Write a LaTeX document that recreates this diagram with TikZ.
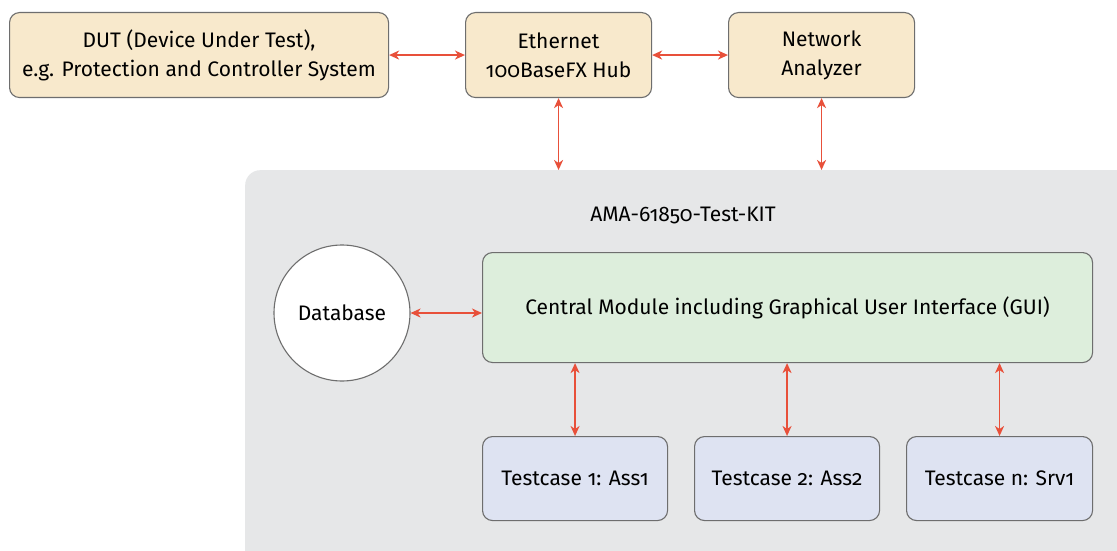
\documentclass[tikz,border=0pt]{standalone}
\usepackage{fontspec}
\setmainfont[Numbers=OldStyle]{Fira Sans}
\usetikzlibrary{arrows.meta,calc}
\definecolor{beige}{HTML}{F8E9CC}
\definecolor{greenbox}{HTML}{DDEEDC}
\definecolor{bluebox}{HTML}{DEE3F2}
\definecolor{panelgray}{HTML}{E6E7E8}
\definecolor{bordergray}{HTML}{6E6E6E}
\definecolor{arrowred}{HTML}{E8503A}
\tikzset{
  x=1pt, y=-1pt,
  txt/.style={font=\fontsize{21}{29}\selectfont},
  boxbase/.style={draw=bordergray, line width=1.1pt, rounded corners=10pt, align=center,
    inner sep=0pt, txt, anchor=north west},
  topbox/.style={boxbase, fill=beige},
  centralbox/.style={boxbase, fill=greenbox},
  testbox/.style={boxbase, fill=bluebox},
  link/.style={draw=arrowred, line width=1.6pt, {Stealth[length=10pt,width=9pt,inset=3pt]}-{Stealth[length=10pt,width=9pt,inset=3pt]}},
}
\begin{document}
\begin{tikzpicture}
\useasboundingbox (0,0) rectangle (1117,551);
\fill[white] (0,0) rectangle (1117,551);
\begin{scope}
\clip (0,0) rectangle (1117,551);
\node[fill=panelgray, rounded corners=15pt, anchor=north west, minimum width=902pt, minimum height=411pt, inner sep=0pt] (kit) at (245,170) {};
\end{scope}
\node[txt] (title) at (683,215) {AMA-61850-Test-KIT};

\node[topbox, minimum width=379pt, minimum height=85pt] (dut) at (9,12) {DUT (Device Under Test),\\e.g. Protection and Controller System};
\node[topbox, minimum width=186pt, minimum height=85pt] (hub) at (465,12) {Ethernet\\100BaseFX Hub};
\node[topbox, minimum width=186pt, minimum height=85pt] (na) at (728,12) {Network\\Analyzer};

\node[draw=bordergray, line width=1.1pt, fill=white, circle, minimum size=136pt, inner sep=0pt, txt] (db) at (342,313) {Database};
\node[centralbox, minimum width=610pt, minimum height=110pt] (cm) at (482,252) {Central Module including Graphical User Interface (GUI)};

\node[testbox, minimum width=185pt, minimum height=84pt] (t1) at (482,436) {Testcase 1: Ass1};
\node[testbox, minimum width=185pt, minimum height=84pt] (t2) at (694,436) {Testcase 2: Ass2};
\node[testbox, minimum width=186pt, minimum height=84pt] (t3) at (906,436) {Testcase n: Srv1};

\draw[link] (dut) -- (hub);
\draw[link] (hub) -- (na);
\draw[link] (hub.south) -- (hub.south |- kit.north);
\draw[link] (na.south) -- (na.south |- kit.north);
\draw[link] (db.east) -- (db.east -| cm.west);
\draw[link] (t1.north |- cm.south) -- (t1.north);
\draw[link] (t2.north |- cm.south) -- (t2.north);
\draw[link] (t3.north |- cm.south) -- (t3.north);
\end{tikzpicture}
\end{document}
